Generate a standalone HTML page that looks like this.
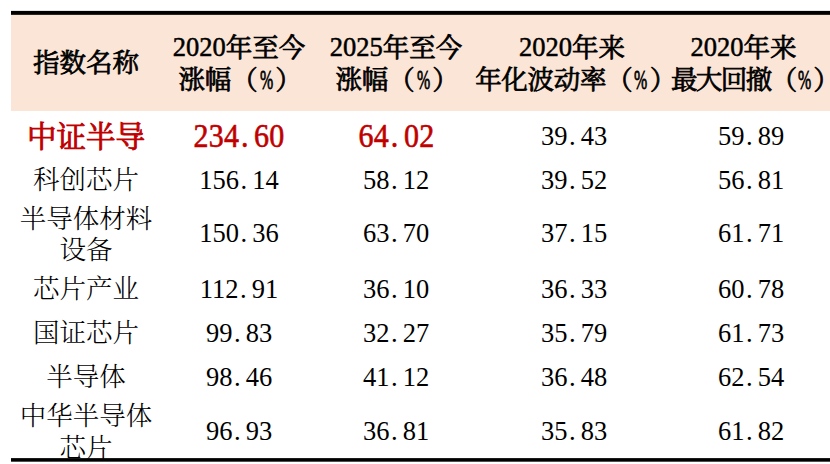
<!DOCTYPE html>
<html lang="zh-CN">
<head>
<meta charset="utf-8">
<title>指数表现</title>
<style>
html,body{margin:0;padding:0;background:#fff;}
body{width:830px;height:464px;position:relative;overflow:hidden;
  font-family:"Liberation Serif","Noto Serif CJK SC",serif;color:#000;}
.bar{position:absolute;left:11px;width:819px;height:3.5px;background:#000;}
.hbg{position:absolute;left:11px;top:15px;width:819px;height:96px;background:#fbe5d6;}
.c{position:absolute;text-align:center;white-space:nowrap;font-size:26.5px;line-height:30px;width:300px;margin-left:-150px;font-weight:300;}
.h{-webkit-text-stroke:0.75px #000;line-height:32px;font-weight:400;}
.r{color:#c00000;-webkit-text-stroke:0.9px #c00000;font-size:29.5px;font-weight:400;}
.d{display:inline-block;width:.5em;text-align:left;text-indent:.06em;}
.n{display:inline-block;transform:translateY(-.5px) scaleY(1.07);transform-origin:50% 76%;}
.r .n{font-size:30px;-webkit-text-stroke:0.55px #c00000;letter-spacing:.2px;transform:translateY(-.3px) scaleY(1.12);}
.h .n{-webkit-text-stroke:0.5px #000;transform:translateY(-.9px) scaleY(1.07);}
.p{display:inline-block;width:.5em;margin:0 2px;}
.p i{display:inline-block;font-style:normal;transform:scale(.6,1.07);transform-origin:0 76%;}
</style>
</head>
<body>
<div class="bar" style="top:10px;height:5px;background:linear-gradient(#e4e4e4 0 1px,#000 1px 4px,#2a2624 4px 5px)"></div>
<div class="hbg"></div>
<div class="bar" style="top:458px;height:4px;background:linear-gradient(#1c1c1c 0 1px,#000 1px 3px,#505050 3px 4px)"></div>

<!-- header -->
<div class="c h" style="left:86px;top:46.8px">指数名称</div>
<div class="c h" style="left:239px;top:31.7px"><span class="n">2020</span>年至今</div>
<div class="c h" style="left:240px;top:63.9px">涨幅（<span class="p"><i>%</i></span>）</div>
<div class="c h" style="left:396px;top:31.7px"><span class="n">2025</span>年至今</div>
<div class="c h" style="left:397px;top:63.9px">涨幅（<span class="p"><i>%</i></span>）</div>
<div class="c h" style="left:572px;top:31.7px"><span class="n">2020</span>年来</div>
<div class="c h" style="left:575.5px;top:63.9px;letter-spacing:-.3px">年化波动率（<span class="p"><i>%</i></span>）</div>
<div class="c h" style="left:743.5px;top:31.7px"><span class="n">2020</span>年来</div>
<div class="c h" style="left:754.5px;top:63.9px;letter-spacing:-1.5px">最大回撤（<span class="p"><i>%</i></span>）</div>

<!-- row 1 -->
<div class="c r" style="left:86px;top:122px">中证半导</div>
<div class="c r" style="left:239px;top:122px"><span class="n">234<span class="d">.</span>60</span></div>
<div class="c r" style="left:396.5px;top:122px"><span class="n">64<span class="d">.</span>02</span></div>
<div class="c" style="left:574px;top:121px"><span class="n">39<span class="d">.</span>43</span></div>
<div class="c" style="left:751px;top:121px"><span class="n">59<span class="d">.</span>89</span></div>

<!-- row 2 -->
<div class="c" style="left:86px;top:165px">科创芯片</div>
<div class="c" style="left:239px;top:165px"><span class="n">156<span class="d">.</span>14</span></div>
<div class="c" style="left:396px;top:165px"><span class="n">58<span class="d">.</span>12</span></div>
<div class="c" style="left:574px;top:165px"><span class="n">39<span class="d">.</span>52</span></div>
<div class="c" style="left:751px;top:165px"><span class="n">56<span class="d">.</span>81</span></div>

<!-- row 3 -->
<div class="c" style="left:86px;top:204px;line-height:31px">半导体材料<br>设备</div>
<div class="c" style="left:239px;top:218px"><span class="n">150<span class="d">.</span>36</span></div>
<div class="c" style="left:396px;top:218px"><span class="n">63<span class="d">.</span>70</span></div>
<div class="c" style="left:574px;top:218px"><span class="n">37<span class="d">.</span>15</span></div>
<div class="c" style="left:751px;top:218px"><span class="n">61<span class="d">.</span>71</span></div>

<!-- row 4 -->
<div class="c" style="left:86px;top:274px">芯片产业</div>
<div class="c" style="left:239px;top:274px"><span class="n">112<span class="d">.</span>91</span></div>
<div class="c" style="left:396px;top:274px"><span class="n">36<span class="d">.</span>10</span></div>
<div class="c" style="left:574px;top:274px"><span class="n">36<span class="d">.</span>33</span></div>
<div class="c" style="left:751px;top:274px"><span class="n">60<span class="d">.</span>78</span></div>

<!-- row 5 -->
<div class="c" style="left:86px;top:318px">国证芯片</div>
<div class="c" style="left:239px;top:318px"><span class="n">99<span class="d">.</span>83</span></div>
<div class="c" style="left:396px;top:318px"><span class="n">32<span class="d">.</span>27</span></div>
<div class="c" style="left:574px;top:318px"><span class="n">35<span class="d">.</span>79</span></div>
<div class="c" style="left:751px;top:318px"><span class="n">61<span class="d">.</span>73</span></div>

<!-- row 6 -->
<div class="c" style="left:86px;top:362px">半导体</div>
<div class="c" style="left:239px;top:362px"><span class="n">98<span class="d">.</span>46</span></div>
<div class="c" style="left:396px;top:362px"><span class="n">41<span class="d">.</span>12</span></div>
<div class="c" style="left:574px;top:362px"><span class="n">36<span class="d">.</span>48</span></div>
<div class="c" style="left:751px;top:362px"><span class="n">62<span class="d">.</span>54</span></div>

<!-- row 7 -->
<div class="c" style="left:86px;top:399.5px;line-height:32px">中华半导体<br>芯片</div>
<div class="c" style="left:239px;top:416px"><span class="n">96<span class="d">.</span>93</span></div>
<div class="c" style="left:396px;top:416px"><span class="n">36<span class="d">.</span>81</span></div>
<div class="c" style="left:574px;top:416px"><span class="n">35<span class="d">.</span>83</span></div>
<div class="c" style="left:751px;top:416px"><span class="n">61<span class="d">.</span>82</span></div>
</body>
</html>
